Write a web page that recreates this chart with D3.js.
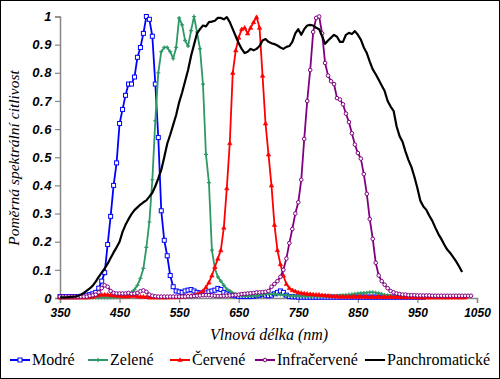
<!DOCTYPE html>
<html><head><meta charset="utf-8">
<script src="https://cdn.jsdelivr.net/npm/d3@7"></script>
<style>body{margin:0;background:#fff}svg{display:block}</style>
</head><body>
<script>
const wavelengths = [350,355,360,365,370,375,380,385,390,395,400,405,410,415,420,425,430,435,440,445,450,455,460,465,470,475,480,485,490,495,500,505,510,515,520,525,530,535,540,545,550,555,560,565,570,575,580,585,590,595,600,605,610,615,620,625,630,635,640,645,650,655,660,665,670,675,680,685,690,695,700,705,710,715,720,725,730,735,740,745,750,755,760,765,770,775,780,785,790,795,800,805,810,815,820,825,830,835,840,845,850,855,860,865,870,875,880,885,890,895,900,905,910,915,920,925,930,935,940,945,950,955,960,965,970,975,980,985,990,995,1000,1005,1010,1015,1020,1025,1030,1035,1040];

const modre = [.005,.005,.005,.005,.005,.005,.005,.006,.008,.01,.012,.015,.02,.035,.06,.09,.19,.29,.40,.48,.62,.67,.72,.76,.76,.785,.855,.89,.94,1.0,.99,.93,.76,.57,.31,.205,.15,.08,.04,.025,.022,.02,.025,.028,.03,.025,.02,.018,.015,.018,.022,.025,.028,.034,.03,.02,.015,.012,.01,.008,.006,.005,.005,.005,.005,.006,.008,.01,.012,.01,.008,.01,.015,.02,.025,.02,.01,.005,.004,.004,.003,.003,.003,.003,.003,.003,.003,.003,.003,.003,.003,.003,.003,.003,.003,.003,.003,.003,.003,.003,.003,.003,.003,.003,.003,.003,.003,.003,.003,.003,.003,.003,.003,.003,.003,.003,.003,.003,.003,.003,.003,.003,.003,null,null,null,null,null,null,null,null,null,null,null,null,null,null,null,null];

const zelene = [.002,.002,.002,.002,.002,.002,.002,.002,.002,.002,.002,.002,.002,.002,.002,.002,.002,.002,.002,.003,.003,.005,.008,.012,.02,.03,.045,.07,.105,.18,.27,.42,.63,.80,.875,.89,.89,.875,.85,.89,.995,.97,.915,.895,.95,1.0,.945,.885,.76,.51,.41,.17,.105,.075,.06,.045,.032,.025,.018,.012,.01,.008,.007,.007,.007,.008,.008,.01,.012,.014,.015,.015,.014,.012,.012,.01,.01,.008,.008,.007,.007,.006,.006,.006,.006,.006,.006,.006,.006,.006,.006,.006,.007,.008,.009,.01,.011,.012,.013,.015,.016,.017,.018,.019,.02,.02,.019,.017,.014,.011,.009,.007,.006,.005,.005,.004,.004,.004,.004,.004,.004,.003,.003,.003,.003,.003,.003,.003,.003,.003,.003,null,null,null,null,null,null,null,null];

const cervene = [.002,.002,.002,.002,.002,.002,.002,.002,.002,.002,.003,.005,.008,.01,.012,.012,.012,.01,.01,.008,.008,.006,.006,.006,.008,.008,.006,.005,.005,.004,.002,.002,.002,.002,.002,.002,.002,.003,.003,.003,.004,.005,.006,.007,.008,.01,.013,.018,.025,.038,.055,.08,.11,.14,.17,.25,.39,.55,.80,.88,.925,.955,.96,.94,.96,.98,.998,.96,.79,.62,.51,.40,.26,.17,.12,.08,.05,.035,.028,.024,.02,.018,.016,.015,.014,.013,.012,.012,.01,.009,.008,.007,.006,.006,.005,.005,.005,.005,.005,.005,.005,.005,.005,.004,.004,.004,.004,.004,.004,.004,.004,.004,.004,.004,.004,.003,.003,.003,.003,.003,.002,.002,.002,.002,.002,.002,.002,.002,.002,.002,.002,.002,.002,.002,.002,.002,.002,null,null];

const infracervene = [.005,.005,.005,.005,.005,.005,.005,.005,.005,.005,.008,.01,.012,.02,.035,.045,.04,.025,.018,.016,.016,.016,.016,.018,.015,.016,.018,.024,.027,.022,.012,.008,.006,.005,.005,.005,.005,.005,.005,.005,.005,.005,.005,.006,.006,.007,.008,.009,.01,.01,.01,.009,.008,.007,.007,.008,.008,.009,.01,.011,.012,.014,.015,.016,.017,.018,.02,.02,.021,.022,.025,.04,.05,.06,.075,.10,.14,.195,.245,.30,.34,.42,.565,.70,.81,.945,.995,1.0,.94,.835,.79,.77,.76,.71,.705,.688,.655,.625,.585,.545,.515,.495,.44,.37,.28,.21,.125,.08,.06,.047,.035,.025,.02,.016,.014,.012,.012,.01,.01,.01,.009,.009,.009,.009,.009,.008,.008,.008,.008,.008,.008,.008,.008,.008,.008,.008,.008,.008,.008];

const panchromaticke = [.002,.002,.002,.003,.004,.005,.007,.012,.018,.026,.034,.044,.058,.075,.09,.105,.122,.142,.162,.18,.20,.235,.26,.28,.298,.312,.322,.332,.34,.347,.36,.374,.397,.425,.455,.50,.548,.58,.615,.65,.695,.73,.77,.81,.86,.90,.94,.955,.968,.965,.98,.982,.985,.995,.995,.99,.998,.98,.955,.93,.905,.885,.87,.875,.885,.88,.885,.895,.915,.92,.91,.905,.902,.897,.89,.885,.892,.895,.91,.94,.955,.935,.955,.968,.97,.968,.96,.955,.93,.903,.915,.925,.935,.928,.91,.91,.935,.942,.938,.948,.935,.918,.89,.87,.84,.812,.795,.775,.755,.735,.70,.68,.665,.61,.575,.555,.52,.49,.465,.43,.39,.345,.325,.313,.292,.274,.25,.228,.21,.19,.172,.16,.145,.13,.112,.092,null,null,null];

const seriesNames = ["Modré","Zelené","Červené","Infračervené","Panchromatické"];
const seriesColors = ["#0000ff","#2e9966","#ff0000","#800080","#000000"];
const seriesMarkers = ["square","cross","triangle","circle","none"];
const seriesValues = [modre, zelene, cervene, infracervene, panchromaticke];
const xTicks = [350,450,550,650,750,850,950,1050];
const yTicks = [0,0.1,0.2,0.3,0.4,0.5,0.6,0.7,0.8,0.9,1];

const SERIF = '"Liberation Serif"';
const SANS = '"Liberation Sans"';

const W = 500, H = 379;
const svg = d3.select("body").append("svg").attr("width", W).attr("height", H);
svg.append("rect").attr("x",0.5).attr("y",0.5).attr("width",W-1).attr("height",H-1)
  .attr("fill","#fff").attr("stroke","#000").attr("stroke-width",1);

const x = d3.scaleLinear().domain([350,1050]).range([60,477]);
const y = d3.scaleLinear().domain([0,1]).range([298,16.5]);

// axes
const axisColor = "#868686";
const gx = svg.append("g").attr("transform","translate(0,298)")
  .call(d3.axisBottom(x).tickValues(xTicks).tickSize(5).tickPadding(5).tickFormat(d3.format("d")));
const gy = svg.append("g").attr("transform","translate(60,0)")
  .call(d3.axisLeft(y).tickValues(yTicks).tickSize(5).tickPadding(3).tickFormat(d => d===0||d===1 ? String(d) : d3.format(".1f")(d)));
[gx,gy].forEach(g => {
  g.select(".domain").attr("stroke",axisColor).attr("stroke-width",1.5);
  g.selectAll(".tick line").attr("stroke",axisColor).attr("stroke-width",1.2);
  g.selectAll("text").attr("fill","#000").style("font-family",SANS)
    .style("font-size","12px").style("font-weight","bold").style("font-style","italic");
});
gy.selectAll("text").style("font-size","13px").style("letter-spacing","0.6px");

// titles
svg.append("text").attr("x",269).attr("y",340).attr("text-anchor","middle")
  .style("font-family",SERIF).style("font-style","italic")
  .style("font-size","16px").text("Vlnová délka (nm)");
svg.append("text").attr("transform","translate(19,158) rotate(-90)").attr("text-anchor","middle")
  .style("font-family",SERIF).style("font-style","italic")
  .style("font-size","15.5px").text("Poměrná spektrální citlivost");

function drawMarker(g, type, color, cx, cy) {
  if (type === "square") {
    g.append("rect").attr("x",cx-2).attr("y",cy-2).attr("width",4).attr("height",4)
      .attr("fill","#fff").attr("stroke",color).attr("stroke-width",1);
  } else if (type === "circle") {
    g.append("circle").attr("cx",cx).attr("cy",cy).attr("r",1.8)
      .attr("fill","#fff").attr("stroke",color).attr("stroke-width",1);
  } else if (type === "cross") {
    g.append("path").attr("d",`M${cx-2},${cy}L${cx+2},${cy}M${cx},${cy-2}L${cx},${cy+2}`)
      .attr("stroke",color).attr("stroke-width",1.2);
  } else if (type === "triangle") {
    g.append("path").attr("d",`M${cx},${cy-2.2}L${cx+2.2},${cy+1.6}L${cx-2.2},${cy+1.6}Z`)
      .attr("fill",color).attr("stroke",color).attr("stroke-width",0.6);
  }
}

const plot = svg.append("g");
seriesValues.forEach((vals, si) => {
  const pts = wavelengths.map((w,i)=>[w, vals[i]]).filter(p => p[1] !== null && p[1] !== undefined);
  const line = d3.line().x(p=>x(p[0])).y(p=>y(p[1]));
  const g = plot.append("g");
  g.append("path").datum(pts).attr("d",line).attr("fill","none")
    .attr("stroke",seriesColors[si]).attr("stroke-width", si===4 ? 2.2 : 1.8)
    .attr("stroke-linejoin","round");
  if (seriesMarkers[si] !== "none") {
    pts.forEach(p => drawMarker(g, seriesMarkers[si], seriesColors[si], x(p[0]), y(p[1])));
  }
});

// legend
const legendX = [10, 88, 170, 255, 365];
const leg = svg.append("g");
seriesNames.forEach((n, i) => {
  const lx = legendX[i], ly = 360;
  leg.append("line").attr("x1",lx).attr("x2",lx+20).attr("y1",ly).attr("y2",ly)
    .attr("stroke",seriesColors[i]).attr("stroke-width",2);
  if (seriesMarkers[i] !== "none") drawMarker(leg, seriesMarkers[i], seriesColors[i], lx+10, ly);
  leg.append("text").attr("x",lx+22).attr("y",ly+5)
    .style("font-family",SERIF)
    .style("font-size","16px").text(n);
});
</script>
</body></html>
